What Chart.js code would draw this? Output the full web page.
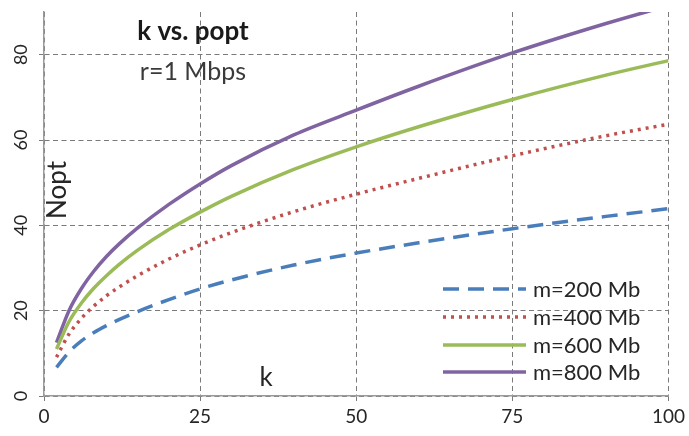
<!DOCTYPE html>
<html>
<head>
<meta charset="utf-8">
<script src="https://cdn.jsdelivr.net/npm/chart.js@4.4.1/dist/chart.umd.min.js"></script>
<style>
  html, body { margin: 0; padding: 0; background: #ffffff; }
  #wrap { width: 689px; height: 436px; }
</style>
</head>
<body>
<div id="wrap"><canvas id="c" width="689" height="436"></canvas></div>
<script>
// ---- data ----
const kValues  = [2, 4, 6, 8, 10, 12, 15, 20, 25, 30, 40, 50, 60, 75, 90, 100];
const m200 = [6.7, 10.3, 12.9, 14.9, 16.5, 17.9, 19.8, 22.6, 25.1, 27.2, 30.7, 33.5, 35.9, 39.2, 42.1, 43.9];
const m400 = [9.1, 14.5, 18.2, 21.1, 23.5, 25.5, 28.2, 32.1, 35.4, 38.3, 43.2, 47.3, 51.0, 56.3, 61.0, 63.7];
const m600 = [11.0, 17.4, 21.8, 25.3, 28.2, 30.8, 34.2, 39.0, 43.1, 46.8, 53.1, 58.4, 63.1, 69.5, 75.2, 78.6];
const m800 = [12.5, 20.0, 25.2, 29.3, 32.7, 35.6, 39.4, 44.9, 49.7, 54.0, 61.2, 67.0, 72.6, 80.4, 87.3, 91.5];
const seriesNames = ['m=200 Mb', 'm=400 Mb', 'm=600 Mb', 'm=800 Mb'];
const xTicks = [0, 25, 50, 75, 100];
const yTicks = [0, 20, 40, 60, 80];
const titleText = 'k vs. popt';
const subtitleText = 'r=1 Mbps';
const xTitle = 'k';
const yTitle = 'Nopt';

const colors = ['#4A7EBB', '#C0504D', '#9BBB59', '#8064A2'];
const dashes = [[16, 9], [3, 5], [], []];

function toPoints(arr) { return kValues.map((k, i) => ({ x: k, y: arr[i] })); }

const datasets = [m200, m400, m600, m800].map((arr, i) => ({
  label: seriesNames[i],
  data: toPoints(arr),
  borderColor: colors[i],
  backgroundColor: colors[i],
  borderWidth: 3.5,
  borderDash: dashes[i],
  pointRadius: 0,
  tension: 0.4,
  cubicInterpolationMode: 'monotone',
  fill: false,
  clip: 0
}));

const FONT = 'Lato, "Open Sans", "DejaVu Sans", sans-serif';

const overlay = {
  id: 'overlay',
  afterDraw(chart) {
    const ctx = chart.ctx;
    const ys = chart.scales.y;
    ctx.save();
    // y tick labels, rotated
    ctx.fillStyle = '#262626';
    ctx.font = '18px ' + FONT;
    ctx.textAlign = 'center';
    ctx.textBaseline = 'middle';
    yTicks.forEach(v => {
      const py = ys.getPixelForValue(v);
      ctx.save();
      ctx.translate(21, py);
      ctx.rotate(-Math.PI / 2);
      ctx.fillText(String(v), 0, 0);
      ctx.restore();
    });
    // title
    ctx.fillStyle = '#1a1a1a';
    ctx.font = 'bold 26px ' + FONT;
    ctx.fillText(titleText, 193, 32);
    ctx.fillStyle = '#3a3a3a';
    ctx.font = '25px ' + FONT;
    ctx.fillText(subtitleText, 193, 72);
    // axis titles inside plot
    ctx.fillStyle = '#262626';
    ctx.font = '26px ' + FONT;
    ctx.fillText(xTitle, 266, 378);
    ctx.save();
    ctx.translate(58, 190);
    ctx.rotate(-Math.PI / 2);
    ctx.fillText(yTitle, 0, 0);
    ctx.restore();
    // legend
    const rows = [289, 317, 345, 372];
    ctx.textAlign = 'left';
    ctx.font = '22px ' + FONT;
    chart.data.datasets.forEach((ds, i) => {
      ctx.save();
      ctx.strokeStyle = ds.borderColor;
      ctx.lineWidth = 3.5;
      ctx.setLineDash(ds.borderDash || []);
      ctx.beginPath();
      ctx.moveTo(443, rows[i]);
      ctx.lineTo(526, rows[i]);
      ctx.stroke();
      ctx.restore();
      ctx.fillStyle = '#262626';
      ctx.fillText(ds.label, 533, rows[i] + 1);
    });
    ctx.restore();
  }
};

new Chart(document.getElementById('c'), {
  type: 'line',
  data: { datasets },
  plugins: [overlay],
  options: {
    responsive: false,
    animation: false,
    layout: { padding: { top: 12, right: 20, left: 0, bottom: 0 } },
    plugins: { legend: { display: false }, tooltip: { enabled: false }, title: { display: false } },
    scales: {
      x: {
        type: 'linear',
        min: 0, max: 100,
        afterFit(scale) { scale.height = 40; },
        afterBuildTicks(scale) { scale.ticks = xTicks.map(v => ({ value: v })); },
        ticks: { color: '#262626', font: { family: FONT, size: 19 }, padding: 4, maxRotation: 0, minRotation: 0 },
        grid: { color: '#7a7a7a', lineWidth: 1, tickLength: 5, drawTicks: true },
        border: { display: true, color: '#9a9a9a', width: 1.5, dash: [5, 3.5] }
      },
      y: {
        type: 'linear',
        min: 0, max: 90,
        afterFit(scale) { scale.width = 44; },
        afterBuildTicks(scale) { scale.ticks = yTicks.map(v => ({ value: v })); },
        ticks: { display: false },
        grid: { color: '#7a7a7a', lineWidth: 1, tickLength: 5, drawTicks: true },
        border: { display: true, color: '#9a9a9a', width: 1.5, dash: [5, 3.5] }
      }
    }
  }
});
</script>
</body>
</html>
